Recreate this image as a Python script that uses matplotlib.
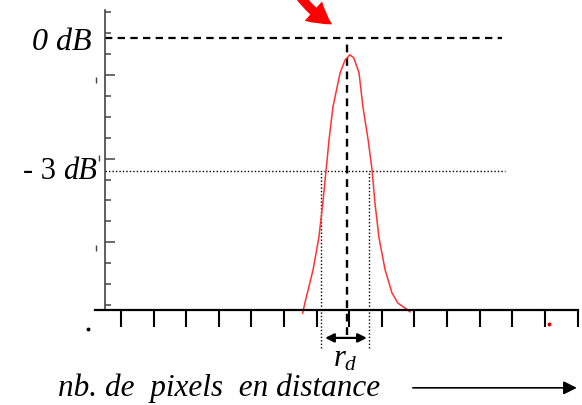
import numpy as np
import matplotlib
matplotlib.use("Agg")
from matplotlib import pyplot as plt
from matplotlib.patches import FancyArrowPatch

plt.rcParams['font.family'] = ['Liberation Serif', 'DejaVu Serif']
plt.rcParams['mathtext.fontset'] = 'custom'
plt.rcParams['mathtext.it'] = 'Liberation Serif:italic'
plt.rcParams['mathtext.rm'] = 'Liberation Serif'

# Intensity profile across the spot: pixel position vs level (dB)
profile_x = [5.57, 5.64, 5.89, 6.07, 6.19, 6.29, 6.38, 6.50, 6.72, 6.87, 7.02,
             7.14, 7.30, 7.42, 7.58, 7.70, 7.79, 7.91, 8.10, 8.31, 8.49, 8.80, 8.86]
profile_db = [-6.23, -6.00, -5.25, -4.51, -3.74, -2.99, -2.31, -1.56, -0.79, -0.50, -0.38,
              -0.45, -0.79, -1.56, -2.31, -2.99, -3.74, -4.51, -5.25, -5.77, -6.00, -6.16, -6.20]

pixel_ticks = np.arange(15)
level_ticks = np.linspace(-6.05, 0.59, 15)
level_major = level_ticks[[3, 7, 11]]

peak_x = 6.93          # centre of the spot
half_left = 6.12       # -3 dB crossings
half_right = 7.60
ref_db = 0.0
half_db = -3.0

fig = plt.figure(figsize=(5.82, 4.05), dpi=100)
ax = fig.add_axes([95 / 582, 95 / 405, 482.5 / 582, 300 / 405])
ax.set_xlim(-0.797, 14.0)
ax.set_ylim(-6.158, 0.634)

for side in ('top', 'right'):
    ax.spines[side].set_visible(False)
ax.spines['left'].set_position(('data', -0.49))
ax.spines['left'].set_color('#444444')
ax.spines['left'].set_linewidth(1.2)
ax.spines['bottom'].set_linewidth(1.6)

ax.set_xticks(pixel_ticks)
ax.set_xticklabels([])
ax.tick_params(axis='x', direction='out', length=12.5, width=1.5, color='black')
ax.set_yticks(level_ticks)
ax.set_yticklabels([])
ax.tick_params(axis='y', direction='in', length=4, width=1.1, color='#444444')
for t in ax.yaxis.get_major_ticks():
    if np.any(np.isclose(t.get_loc(), level_major)):
        t.tick1line.set_markersize(7.5)

# reference levels
ax.hlines(ref_db, -0.49, 11.69, colors='black', linestyles=(0, (3.3, 2.4)), lw=1.6, clip_on=False)
ax.vlines(peak_x, -6.72, ref_db, colors='black', linestyles=(0, (3.3, 2.4)), lw=1.7, clip_on=False)
ax.hlines(half_db, -0.49, 11.78, colors='black', linestyles=(0, (1, 1.5)), lw=1.0, clip_on=False)
ax.vlines([half_left, half_right], -7.02, half_db, colors='black',
          linestyles=(0, (1, 1.5)), lw=1.0, clip_on=False)

ax.plot(profile_x, profile_db, color='#ff3333', lw=1.1, clip_on=False)

# spot radius r_d
ax.annotate('', xy=(6.26, -6.79), xytext=(7.54, -6.79),
            arrowprops=dict(arrowstyle='<|-|>', color='black', lw=1.6,
                            mutation_scale=13, shrinkA=0, shrinkB=0),
            annotation_clip=False)
ax.text(6.88, -7.43, r'$r_d$', fontsize=22, ha='center', va='baseline')

# level labels
ax.text(-0.89, -0.27, '0 dB', fontsize=23, style='italic', ha='right', va='baseline')
ax.text(-0.736, -3.19, 'dB', fontsize=22, style='italic', ha='right', va='baseline')
ax.text(-2.0, -3.19, '- 3', fontsize=22, ha='right', va='baseline')

# horizontal axis caption with arrow
ax.text(-1.93, -8.10, 'nb. de  pixels  en distance', fontsize=22.5, style='italic',
        ha='left', va='baseline', clip_on=False)
ax.annotate('', xy=(13.98, -7.92), xytext=(8.95, -7.92),
            arrowprops=dict(arrowstyle='-|>', color='black', lw=1.2,
                            mutation_scale=20, shrinkA=0, shrinkB=0),
            annotation_clip=False)

# red pointer towards the 0 dB reference
pointer = FancyArrowPatch((5.45, 0.98), (6.55, 0.28), connectionstyle='arc3,rad=0.12',
                          arrowstyle='simple,head_length=0.75,head_width=0.85,tail_width=0.3',
                          mutation_scale=22, color='#ff0000', lw=0, clip_on=False)
ax.add_patch(pointer)

# stray marks
ax.plot([-1.01], [-6.59], marker='o', ms=1.8, color='black', clip_on=False)
ax.plot([13.12], [-6.47], marker='o', ms=1.8, color='#dd0000', clip_on=False)
ax.plot([-0.77, -0.77, -0.67], [-0.95, -4.75, -2.72], ls='none', marker='|',
        ms=5, mew=1.0, color='#444444', clip_on=False)

fig.savefig('out.png', dpi=100)
